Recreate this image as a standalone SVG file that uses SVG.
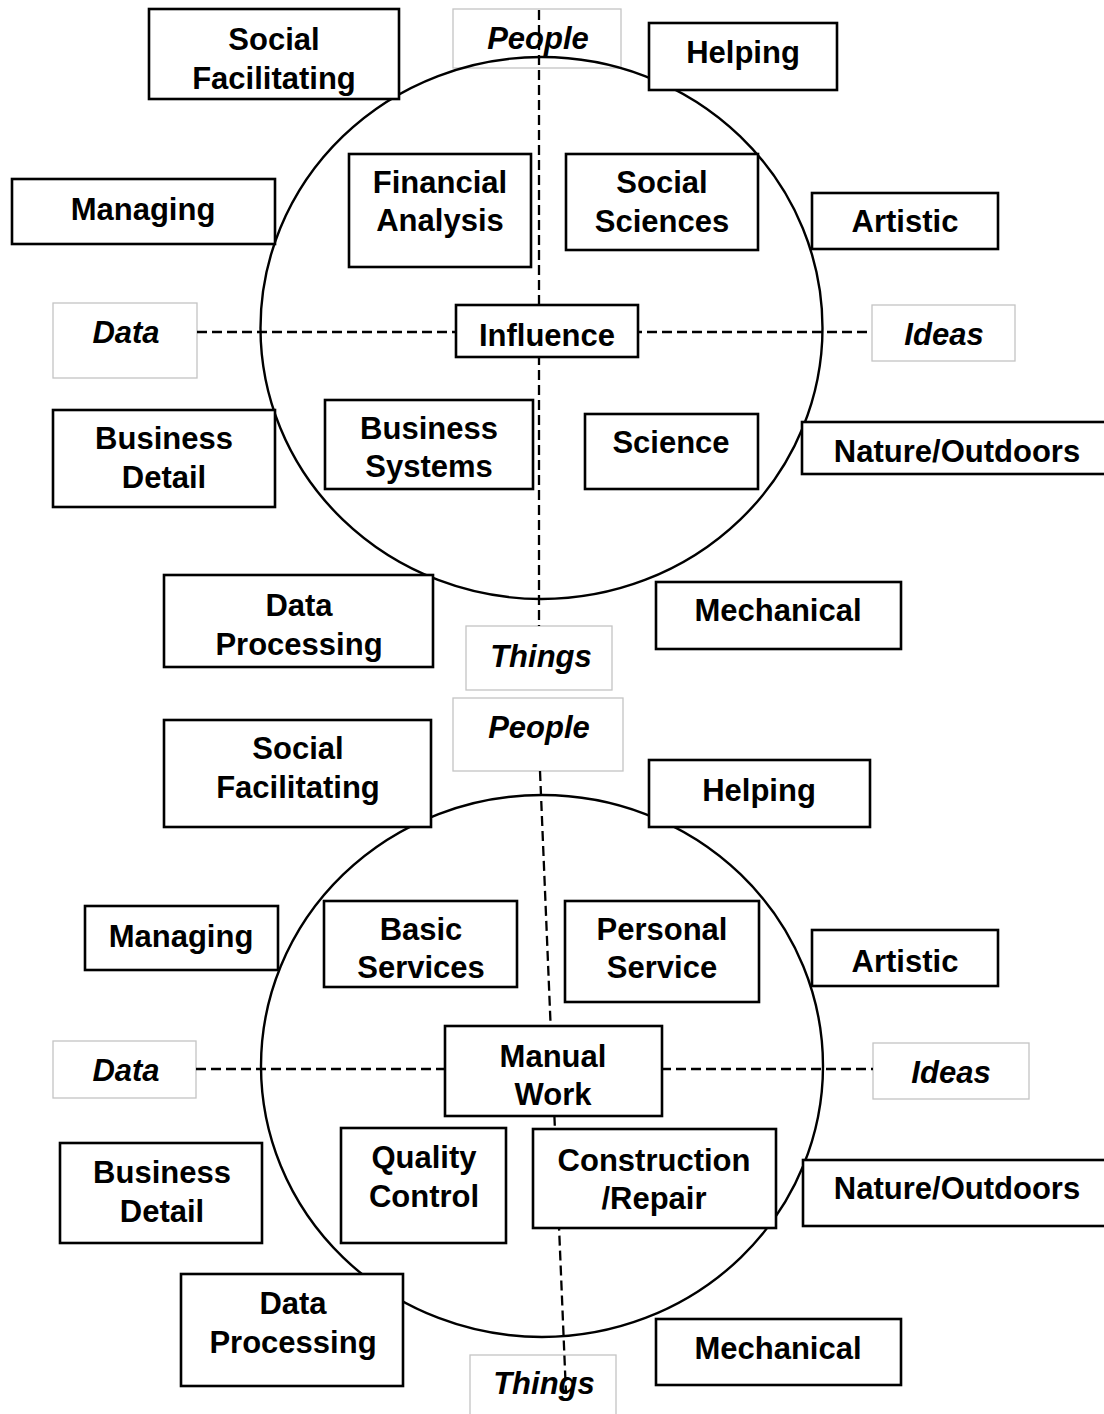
<svg xmlns="http://www.w3.org/2000/svg" width="1104" height="1414" viewBox="0 0 1104 1414">
  <style>
    text { font-family: "Liberation Sans", Arial, sans-serif; font-weight: bold; font-size: 31px; fill: #000; text-anchor: middle; }
    .axis text { font-style: italic; }
    .axis rect { fill: none; stroke: #c4c4c4; stroke-width: 1.3; }
    .box rect { fill: #fff; stroke: #000; stroke-width: 2.6; }
    .ring { fill: none; stroke: #000; stroke-width: 2.4; }
    .dash { stroke: #000; stroke-width: 2.3; stroke-dasharray: 10 5; fill: none; }
  </style>
  <rect width="1104" height="1414" fill="#fff"/>

  <!-- ===== Upper wheel ===== -->
  <!-- axis labels -->
  <g id="a-people-1" class="axis"><rect x="453" y="9" width="168" height="59"/><text x="538" y="49">People</text></g>
  <g id="a-data-1" class="axis"><rect x="53" y="303" width="144" height="75"/><text x="126" y="343">Data</text></g>
  <g id="a-ideas-1" class="axis"><rect x="872" y="305" width="143" height="56"/><text x="944" y="345">Ideas</text></g>
  <g id="a-things-1" class="axis"><rect x="466" y="626" width="146" height="64"/><text x="541" y="667">Things</text></g>

  <ellipse class="ring" cx="541.5" cy="328" rx="281" ry="271"/>

  <g id="connectors-1">
    <line class="dash" x1="539" y1="10" x2="539" y2="626"/>
    <line class="dash" x1="197" y1="332" x2="872" y2="332"/>
  </g>

  <g id="n-socfac-1" class="box"><rect x="149" y="9" width="250" height="90"/><text x="274" y="50">Social</text><text x="274" y="89">Facilitating</text></g>
  <g id="n-helping-1" class="box"><rect x="649" y="23" width="188" height="67"/><text x="743" y="63">Helping</text></g>
  <g id="n-managing-1" class="box"><rect x="12" y="179" width="263" height="65"/><text x="143" y="220">Managing</text></g>
  <g id="n-financial" class="box"><rect x="349" y="154" width="182" height="113"/><text x="440" y="193">Financial</text><text x="440" y="231">Analysis</text></g>
  <g id="n-socsci" class="box"><rect x="566" y="154" width="192" height="96"/><text x="662" y="193">Social</text><text x="662" y="232">Sciences</text></g>
  <g id="n-artistic-1" class="box"><rect x="812" y="193" width="186" height="56"/><text x="905" y="232">Artistic</text></g>
  <g id="n-influence" class="box"><rect x="456" y="305" width="182" height="52"/><text x="547" y="346">Influence</text></g>
  <g id="n-busdet-1" class="box"><rect x="53" y="410" width="222" height="97"/><text x="164" y="449">Business</text><text x="164" y="488">Detail</text></g>
  <g id="n-bussys" class="box"><rect x="325" y="400" width="208" height="89"/><text x="429" y="439">Business</text><text x="429" y="477">Systems</text></g>
  <g id="n-science" class="box"><rect x="585" y="414" width="173" height="75"/><text x="671" y="453">Science</text></g>
  <g id="n-nature-1" class="box"><rect x="802" y="422" width="310" height="52"/><text x="957" y="462">Nature/Outdoors</text></g>
  <g id="n-dataproc-1" class="box"><rect x="164" y="575" width="269" height="92"/><text x="299" y="616">Data</text><text x="299" y="655">Processing</text></g>
  <g id="n-mech-1" class="box"><rect x="656" y="582" width="245" height="67"/><text x="778" y="621">Mechanical</text></g>

  <!-- ===== Lower wheel ===== -->
  <g id="a-people-2" class="axis"><rect x="453" y="698" width="170" height="73"/><text x="539" y="738">People</text></g>
  <g id="a-data-2" class="axis"><rect x="53" y="1041" width="143" height="57"/><text x="126" y="1081">Data</text></g>
  <g id="a-ideas-2" class="axis"><rect x="873" y="1043" width="156" height="56"/><text x="951" y="1083">Ideas</text></g>
  <g id="a-things-2" class="axis"><rect x="470" y="1355" width="146" height="70"/><text x="544" y="1394">Things</text></g>

  <ellipse class="ring" cx="542" cy="1066" rx="281" ry="271"/>

  <g id="connectors-2">
    <line class="dash" x1="540" y1="771" x2="566" y2="1394"/>
    <line class="dash" x1="196" y1="1069" x2="873" y2="1069"/>
  </g>

  <g id="n-socfac-2" class="box"><rect x="164" y="720" width="267" height="107"/><text x="298" y="759">Social</text><text x="298" y="798">Facilitating</text></g>
  <g id="n-helping-2" class="box"><rect x="649" y="760" width="221" height="67"/><text x="759" y="801">Helping</text></g>
  <g id="n-managing-2" class="box"><rect x="85" y="906" width="193" height="64"/><text x="181" y="947">Managing</text></g>
  <g id="n-basic" class="box"><rect x="324" y="901" width="193" height="86"/><text x="421" y="940">Basic</text><text x="421" y="978">Services</text></g>
  <g id="n-personal" class="box"><rect x="565" y="901" width="194" height="101"/><text x="662" y="940">Personal</text><text x="662" y="978">Service</text></g>
  <g id="n-artistic-2" class="box"><rect x="812" y="930" width="186" height="56"/><text x="905" y="972">Artistic</text></g>
  <g id="n-manual" class="box"><rect x="445" y="1026" width="217" height="90"/><text x="553" y="1067">Manual</text><text x="553" y="1105">Work</text></g>
  <g id="n-busdet-2" class="box"><rect x="60" y="1143" width="202" height="100"/><text x="162" y="1183">Business</text><text x="162" y="1222">Detail</text></g>
  <g id="n-quality" class="box"><rect x="341" y="1128" width="165" height="115"/><text x="424" y="1168">Quality</text><text x="424" y="1207">Control</text></g>
  <g id="n-construct" class="box"><rect x="533" y="1129" width="243" height="99"/><text x="654" y="1171">Construction</text><text x="654" y="1209">/Repair</text></g>
  <g id="n-nature-2" class="box"><rect x="803" y="1160" width="310" height="66"/><text x="957" y="1199">Nature/Outdoors</text></g>
  <g id="n-dataproc-2" class="box"><rect x="181" y="1274" width="222" height="112"/><text x="293" y="1314">Data</text><text x="293" y="1353">Processing</text></g>
  <g id="n-mech-2" class="box"><rect x="656" y="1319" width="245" height="66"/><text x="778" y="1359">Mechanical</text></g>
</svg>
